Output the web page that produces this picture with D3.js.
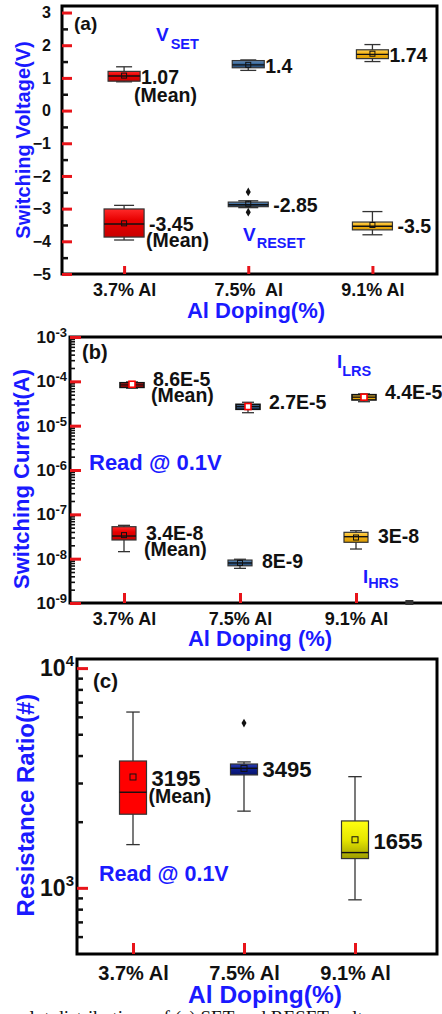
<!DOCTYPE html>
<html>
<head>
<meta charset="utf-8">
<script src="https://cdn.jsdelivr.net/npm/d3@7"></script>
<style>
  body { margin: 0; background: #fff; }
  text { font-family: "Liberation Sans", Arial, sans-serif; font-weight: bold; }
</style>
</head>
<body>
<svg id="chart" width="442" height="1014"></svg>
<script>
// categories
const catsA = ["3.7% Al", "7.5%  Al", "9.1% Al"];
const cats = ["3.7% Al", "7.5% Al", "9.1% Al"];

// box stats: [lower whisker, Q1, median, Q3, upper whisker]
const vSet = [[0.88, 0.90, 1.06, 1.20, 1.34], [1.23, 1.31, 1.40, 1.53, 1.55], [1.50, 1.59, 1.72, 1.86, 2.02]];
const vSetMean = [1.07, 1.4, 1.74];
const vReset = [[-3.96, -3.87, -3.47, -3.01, -2.90], [-2.97, -2.94, -2.88, -2.80, -2.76], [-3.80, -3.65, -3.54, -3.41, -3.09]];
const vResetMean = [-3.45, -2.85, -3.5];
const vResetOut = [[], [-2.49, -3.11], []];

const iLrs = [[7.0e-5, 7.3e-5, 8.3e-5, 9.3e-5, 9.7e-5], [1.96e-5, 2.34e-5, 2.7e-5, 3.03e-5, 3.37e-5], [3.47e-5, 3.8e-5, 4.4e-5, 5.0e-5, 5.2e-5]];
const iLrsMean = [8.6e-5, 2.7e-5, 4.4e-5];
const iHrs = [[1.44e-8, 2.64e-8, 3.24e-8, 5.26e-8, 5.65e-8], [6.05e-9, 6.9e-9, 8e-9, 9.3e-9, 9.7e-9], [1.65e-8, 2.34e-8, 3.13e-8, 3.93e-8, 4.27e-8]];
const iHrsMean = [3.4e-8, 8e-9, 3e-8];

const ratio = [[1573, 2163, 2723, 3778, 6310], [2234, 3265, 3500, 3661, 3741], [882, 1359, 1447, 2016, 3206]];
const ratioMean = [3195, 3495, 1655];
const ratioOut = [[], [5623], []];

// label texts
const setLabels = ["1.07", "1.4", "1.74"];
const resetLabels = ["-3.45", "-2.85", "-3.5"];
const lrsLabels = ["8.6E-5", "2.7E-5", "4.4E-5"];
const hrsLabels = ["3.4E-8", "8E-9", "3E-8"];
const ratioLabels = ["3195", "3495", "1655"];

const blue = "#1a1aff";
const svg = d3.select("#chart");
const defs = svg.append("defs");

function grad(id, stops) {
  const g = defs.append("linearGradient").attr("id", id)
    .attr("x1", 0).attr("y1", 0).attr("x2", 0).attr("y2", 1);
  stops.forEach(s => g.append("stop").attr("offset", s[0]).attr("stop-color", s[1]));
  return "url(#" + id + ")";
}
const fillsAB = [
  grad("gRed", [[0, "#ff2a2a"], [0.4, "#e80000"], [1, "#c80000"]]),
  grad("gBlue", [[0, "#6f97c2"], [0.4, "#3a6899"], [1, "#264c78"]]),
  grad("gGold", [[0, "#ffd45a"], [0.4, "#f5b417"], [1, "#d99a00"]])
];
const fillsC = [
  "#ff0000",
  grad("gNavy", [[0, "#2a3cb0"], [0.5, "#0d1f8f"], [1, "#08146a"]]),
  grad("gYel", [[0, "#ffff10"], [0.5, "#e6e600"], [1, "#9c9c00"]])
];

function frame(l, t, r, b) {
  svg.append("rect").attr("x", l).attr("y", t).attr("width", r - l).attr("height", b - t)
    .attr("fill", "none").attr("stroke", "#000").attr("stroke-width", 3);
}

function boxes(x, y, stats, means, o) {
  const g = svg.append("g");
  stats.forEach((s, i) => {
    const cx = x(i + 1) + (o.dx || 0), w = o.w;
    g.append("line").attr("x1", cx).attr("x2", cx).attr("y1", y(s[0])).attr("y2", y(s[4]))
      .attr("stroke", "#333").attr("stroke-width", 1.3);
    [s[0], s[4]].forEach(v => g.append("line")
      .attr("x1", cx - w / 4).attr("x2", cx + w / 4).attr("y1", y(v)).attr("y2", y(v))
      .attr("stroke", "#333").attr("stroke-width", 1.3));
    g.append("rect").attr("x", cx - w / 2).attr("y", y(s[3])).attr("width", w)
      .attr("height", Math.max(2, y(s[1]) - y(s[3])))
      .attr("fill", o.fills[i]).attr("stroke", o.boxStroke || "#333").attr("stroke-width", o.boxSw || 1.2);
    g.append("line").attr("x1", cx - w / 2).attr("x2", cx + w / 2)
      .attr("y1", y(s[2])).attr("y2", y(s[2])).attr("stroke", "#111").attr("stroke-width", 1.4);
    const m = o.ms || 5;
    g.append("rect").attr("x", cx - m / 2).attr("y", y(means[i]) - m / 2).attr("width", m).attr("height", m)
      .attr("fill", o.meanFill || "none").attr("stroke", o.meanStroke || "#111").attr("stroke-width", o.meanSw || 1);
    (o.out ? o.out[i] : []).forEach(v => g.append("path")
      .attr("d", d3.symbol(d3.symbolDiamond, 22)())
      .attr("transform", "translate(" + cx + "," + y(v) + ")").attr("fill", "#111"));
    g.append("text").attr("x", cx + w / 2 + o.gap).attr("y", y(means[i]) + o.ty)
      .attr("font-size", o.fs || 19.5).attr("fill", "#111").text(o.labels[i]);
    if (i === 0) {
      g.append("text").attr("x", cx + w / 2 + o.gap + o.mx).attr("y", y(means[i]) + o.ty + o.my)
        .attr("font-size", 19.5).attr("fill", "#111").text("(Mean)");
    }
  });
}

function xAxis(x, yb, labels, len, pad, fs) {
  const g = svg.append("g").attr("transform", "translate(0," + yb + ")")
    .call(d3.axisBottom(x).tickValues([1, 2, 3]).tickFormat((d, i) => labels[i])
      .tickSizeInner(-len).tickSizeOuter(0).tickPadding(pad));
  g.select(".domain").remove();
  g.selectAll(".tick line").attr("stroke", "#e8141a").attr("stroke-width", 3);
  g.selectAll(".tick text").attr("font-size", fs).attr("fill", "#111")
    .style("white-space", "pre").attr("font-family", "Liberation Sans, Arial, sans-serif");
}

function supLabels(g, bigFs, supFs, dy) {
  g.selectAll(".tick text").each(function (d) {
    const t = d3.select(this), e = Math.round(Math.log10(d));
    t.text(null).attr("font-size", bigFs).attr("fill", "#111");
    t.append("tspan").text("10");
    t.append("tspan").attr("font-size", supFs).attr("dy", dy).text(e);
  });
}

function title(txt, x, y, fs, rot) {
  svg.append("text").attr("transform", "translate(" + x + "," + y + ")" + (rot ? " rotate(-90)" : ""))
    .attr("text-anchor", "middle").attr("font-size", fs).attr("fill", blue).text(txt);
}

function note(x, y, fs, main, sub, sdx, sdy, col) {
  const t = svg.append("text").attr("x", x).attr("y", y).attr("font-size", fs).attr("fill", col || blue).text(main);
  if (sub) t.append("tspan").attr("font-size", 14.5).attr("dx", sdx).attr("dy", sdy).text(sub);
}

// ---------- panel (a) ----------
const xa = d3.scaleLinear().domain([0.5, 3.52]).range([62, 437]);
const ya = d3.scaleLinear().domain([-5, 3.2]).range([274, 6]);
frame(62, 6, 437, 274);
{
  const gm = svg.append("g").attr("transform", "translate(62,0)")
    .call(d3.axisLeft(ya).tickValues(d3.range(-4.5, 3, 1)).tickSize(-6).tickFormat(""));
  gm.select(".domain").remove();
  gm.selectAll(".tick line").attr("stroke", "#111").attr("stroke-width", 2.5);
  const g = svg.append("g").attr("transform", "translate(62,0)")
    .call(d3.axisLeft(ya).tickValues(d3.range(-5, 3.5, 1)).tickSize(-10).tickPadding(11).tickFormat(d3.format("d")));
  g.select(".domain").remove();
  g.selectAll(".tick line").attr("stroke", "#e8141a").attr("stroke-width", 3);
  g.selectAll(".tick text").attr("font-size", 16).attr("fill", "#111").attr("font-family", "Liberation Sans, Arial, sans-serif");
}
xAxis(xa, 274, catsA, 8, 9, 18);
boxes(xa, ya, vSet, vSetMean, { w: 32, fills: fillsAB, gap: 1, ty: 8, labels: setLabels, mx: -7, my: 18 });
boxes(xa, ya, vReset, vResetMean, { w: 40, fills: fillsAB, gap: 5, ty: 8, labels: resetLabels, mx: -3, my: 16, out: vResetOut });
note(74, 30, 19, "(a)", null, 0, 0, "#111");
note(156, 41, 19, "V", "SET", 2, 8);
note(243, 241, 19, "V", "RESET", 1, 7);
title("Switching Voltage(V)", 30, 140, 20, true);
title("Al Doping(%)", 256, 318, 22, false);

// ---------- panel (b) ----------
const xb = d3.scaleLinear().domain([1, 3]).range([124, 356]);
const yb = d3.scaleLog().domain([1e-9, 1e-3]).range([603, 337]);
frame(70, 337, 460, 603);
{
  const minor = yb.ticks().filter(v => Math.abs(Math.log10(v) - Math.round(Math.log10(v))) > 1e-6);
  const gm = svg.append("g").attr("transform", "translate(70,0)")
    .call(d3.axisLeft(yb).tickValues(minor).tickSize(-5).tickFormat(""));
  gm.select(".domain").remove();
  gm.selectAll(".tick line").attr("stroke", "#111").attr("stroke-width", 1.6);
  const g = svg.append("g").attr("transform", "translate(70,0)")
    .call(d3.axisLeft(yb).tickValues([1e-9, 1e-8, 1e-7, 1e-6, 1e-5, 1e-4, 1e-3]).tickSize(-11).tickPadding(3));
  g.select(".domain").remove();
  g.selectAll(".tick line").attr("stroke", "#e8141a").attr("stroke-width", 3);
  supLabels(g, 17, 13, -6);
  // small dark tick on the bottom axis near the right end
  svg.append("line").attr("x1", xb(3.46)).attr("x2", xb(3.46)).attr("y1", 600).attr("y2", 605)
    .attr("stroke", "#333").attr("stroke-width", 8);
}
xAxis(xb, 603, cats, 10, 9, 18);
boxes(xb, yb, iLrs, iLrsMean, { w: 24, dx: 8, fills: fillsAB, gap: 9, ty: 2, labels: lrsLabels, mx: -2, my: 16,
  ms: 6, meanFill: "#fff", meanStroke: "#f00", meanSw: 1.6, boxStroke: "#111", boxSw: 1.6 });
boxes(xb, yb, iHrs, iHrsMean, { w: 24, fills: fillsAB, gap: 10, ty: 5, labels: hrsLabels, mx: -2, my: 16 });
note(82, 359, 20, "(b)", null, 0, 0, "#111");
note(337, 368, 18.5, "I", "LRS", 0, 8);
note(363, 583, 18.5, "I", "HRS", 0, 5);
note(89, 470, 22, "Read @ 0.1V");
title("Switching Current(A)", 29, 479, 22, true);
title("Al Doping (%)", 260, 646, 22, false);

// ---------- panel (c) ----------
const xc = d3.scaleLinear().domain([1, 3]).range([133, 355]);
const yc = d3.scaleLog().domain([500, 11000]).range([954, 659]);
frame(77, 659, 437, 954);
{
  const minor = [600, 700, 800, 900, 2000, 3000, 4000, 5000, 6000, 7000, 8000, 9000];
  const gm = svg.append("g").attr("transform", "translate(77,0)")
    .call(d3.axisLeft(yc).tickValues(minor).tickSize(-6).tickFormat(""));
  gm.select(".domain").remove();
  gm.selectAll(".tick line").attr("stroke", "#111").attr("stroke-width", 2.5);
  const g = svg.append("g").attr("transform", "translate(77,0)")
    .call(d3.axisLeft(yc).tickValues([1000, 10000]).tickSize(-11).tickPadding(3));
  g.select(".domain").remove();
  g.selectAll(".tick line").attr("stroke", "#e8141a").attr("stroke-width", 3);
  supLabels(g, 23, 15, -10);
}
xAxis(xc, 954, cats, 11, 12, 20);
boxes(xc, yc, ratio, ratioMean, { w: 27, fills: fillsC, gap: 5, ty: 9, fs: 22, labels: ratioLabels, mx: -3, my: 17,
  ms: 6, out: ratioOut });
note(93, 688, 20.5, "(c)", null, 0, 0, "#111");
note(99, 881, 21.5, "Read @ 0.1V");
title("Resistance Ratio(#)", 34, 805, 24, true);
title("Al Doping(%)", 265, 1003, 24.5, false);

// caption (cut off at bottom, as in the source page)
svg.append("text").attr("x", 20).attr("y", 1024)
  .style("font-family", "Liberation Serif, serif").style("font-weight", "normal").style("font-size", "19px")
  .attr("fill", "#111")
  .text("plot distributions of (a) SET and RESET voltages");
</script>
</body>
</html>
